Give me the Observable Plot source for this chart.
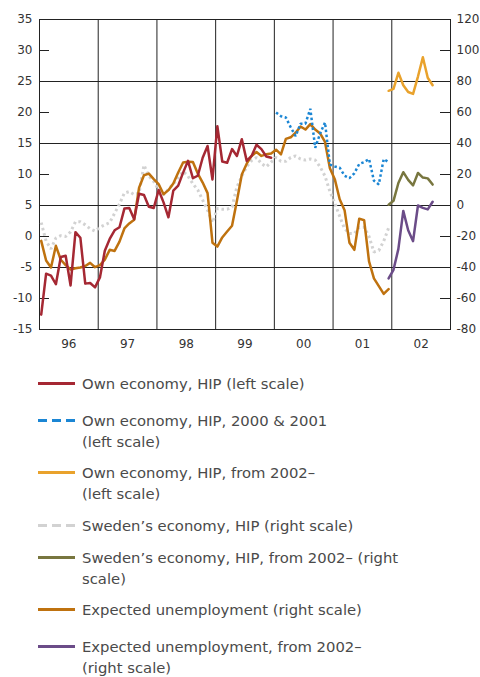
<!DOCTYPE html>
<html><head><meta charset="utf-8">
<script src="https://cdn.jsdelivr.net/npm/d3@7"></script>
<script src="https://cdn.jsdelivr.net/npm/@observablehq/plot@0.6"></script>
<style>
body{margin:0;background:#fff;font-family:"DejaVu Sans",sans-serif;}
#chart svg{display:block}
.legend{margin-top:13px;color:#4a4a4a;font-size:14.8px;line-height:21px}
.item{display:flex;align-items:flex-start;white-space:nowrap}
.item svg{margin-left:38px;margin-right:7px;margin-top:9px;flex:none}
</style></head><body>
<div id="chart"></div>
<div class="legend" id="legend"></div>
<script>
// ---- data (monthly, index 0 = Jan 1996) ----
const ownHIP = [-12.6,-6.0,-6.3,-7.7,-3.3,-3.1,-7.9,0.7,-0.2,-7.6,-7.5,-8.2,
  -6.6,-2.3,-0.4,1.0,1.5,4.5,4.6,2.8,6.9,6.7,4.8,4.6,
  7.5,5.5,3.1,7.4,8.2,10.3,12.2,9.4,9.8,12.7,14.6,9.2,
  17.8,12.1,11.9,14.1,13.0,15.7,12.2,13.0,14.8,14.1,12.9,12.7];
const ownHIPStart = 0;
const ownHIP0001 = [20.0,19.4,19.2,17.6,16.2,18.2,18.2,20.6,14.3,16.6,18.4,11.6,
  11.3,11.1,9.8,9.4,10.2,11.7,12.0,12.5,9.0,8.4,12.5,12.0];
const ownHIP0001Start = 48;
const ownHIP02 = [23.5,23.8,26.4,24.4,23.3,23.0,25.8,28.9,25.6,24.4];
const ownHIP02Start = 71;
const swedenHIP = [-11,-23,-28,-21,-19.5,-20,-17,-10.5,-10.5,-12.5,-15,-16.5,
  -14,-12.5,-11,-5,1,8,9,7,8,26,19,15.5,
  10,7,10.5,14,18,22,19,14,10,3.5,-3,-11,
  -2,-2.4,-2.4,-1,12,19,25,29,31,27,25,28,
  31,28.5,28.5,31,32,30,29.3,30,29.3,25,19,9,
  1.5,-7,-15,-18,-18,-14,-14,-20,-30,-29,-23,-14.5];
const swedenHIPStart = 0;
const swedenHIP02 = [0.5,3,14.5,21.5,16.5,13,21,18,17.5,13.5];
const swedenHIP02Start = 71;
const expUnemp = [-22.8,-35.5,-40,-26,-35,-38.5,-41.3,-40.5,-40,-39,-37,-39.8,
  -38.5,-35,-28.6,-29.3,-23.3,-14.8,-11.6,-9.2,11.5,19.5,20.6,17,
  13.8,7.3,9.9,14.2,21.3,27.7,28.2,28,20.6,14.8,8,-24,
  -26.5,-20.6,-16.8,-13.1,3,20,27,32,34.5,32,33,33.5,
  36,33,43,44,47,51,49,52.5,49,46.5,41,24,
  17,4,-3,-24,-28.6,-8.5,-9.5,-36,-47,-52,-57,-54];
const expUnempStart = 0;
const expUnemp02 = [-47,-41.5,-28,-3.5,-16,-23,0,-1.5,-2.5,2.4];
const expUnemp02Start = 71;

const leftTicks = [35,30,25,20,15,10,5,0,-5,-10,-15];
const rightTicks = [120,100,80,60,40,20,0,-20,-40,-60,-80];
const yearLabels = ["96","97","98","99","00","01","02"];
const firstYear = 1996;

// ---- helpers ----
const toLeft = r => (r + 20) / 4;             // right scale -> left scale
const rows = (vals, start, conv = v => v) =>
  vals.map((v, i) => ({x: firstYear + (start + i + 0.35) / 12, y: conv(v)}));

const gridYears = yearLabels.slice(1).map((d, i) => firstYear + i + 1);
const yearMid = yearLabels.map((d, i) => firstYear + i + 0.5);
const gridY = leftTicks.filter((d, i) => i % 2 === 0 && i > 0 && i < leftTicks.length - 1);
const shortTicks = leftTicks.filter((d, i) => i % 2 === 1);

const C = {red:"#a52833", blue:"#1b86d4", yellow:"#e9a22c", gray:"#d2d2d2",
           olive:"#78763f", brown:"#bf720f", purple:"#6b4c88", grid:"#222"};
const solid = {strokeWidth: 2.5, strokeLinejoin: "round"};
const dotted = {strokeWidth: 2.5, strokeDasharray: "2.5,2.5", strokeLinecap: "butt", strokeLinejoin: "miter"};

const chart = Plot.plot({
  width: 480, height: 360,
  marginLeft: 39, marginRight: 30, marginTop: 19, marginBottom: 31,
  x: {domain: [firstYear, firstYear + yearLabels.length], label: null},
  y: {domain: [leftTicks[leftTicks.length-1], leftTicks[0]], label: null},
  style: {fontFamily: "'DejaVu Sans', sans-serif", fontSize: "12px", color: "#333", background: "#fff"},
  marks: [
    Plot.ruleX(gridYears, {stroke: C.grid, strokeWidth: 1}),
    Plot.ruleY(gridY, {stroke: C.grid, strokeWidth: 1}),
    Plot.tickY(shortTicks, {y: d => d, insetRight: 401, stroke: C.grid}),
    Plot.tickY(shortTicks, {y: d => d, insetLeft: 401, stroke: C.grid}),
    Plot.frame({stroke: C.grid}),
    Plot.line(rows(swedenHIP, swedenHIPStart, toLeft), {x:"x", y:"y", stroke: C.gray, ...dotted, strokeWidth: 3, strokeDasharray: "2.5,3"}),
    Plot.line(rows(expUnemp, expUnempStart, toLeft), {x:"x", y:"y", stroke: C.brown, ...solid}),
    Plot.line(rows(ownHIP, ownHIPStart), {x:"x", y:"y", stroke: C.red, ...solid}),
    Plot.line(rows(ownHIP0001, ownHIP0001Start), {x:"x", y:"y", stroke: C.blue, ...dotted}),
    Plot.line(rows(ownHIP02, ownHIP02Start), {x:"x", y:"y", stroke: C.yellow, ...solid}),
    Plot.line(rows(swedenHIP02, swedenHIP02Start, toLeft), {x:"x", y:"y", stroke: C.olive, ...solid}),
    Plot.line(rows(expUnemp02, expUnemp02Start, toLeft), {x:"x", y:"y", stroke: C.purple, ...solid}),
    Plot.axisY({anchor: "left", ticks: leftTicks, tickSize: 0, tickPadding: 7, label: null,
      tickFormat: d => String(d), fill: "#333"}),
    Plot.axisY({anchor: "right", ticks: leftTicks, tickSize: 0, tickPadding: 6, label: null,
      tickFormat: d => String(rightTicks[leftTicks.indexOf(d)]), fill: "#333"}),
    Plot.axisX({ticks: yearMid, tickSize: 0, tickPadding: 10, label: null,
      tickFormat: d => yearLabels[yearMid.indexOf(d)], fill: "#333"})
  ]
});
document.getElementById("chart").append(chart);

// ---- legend ----
const legendItems = [
  {label: "Own economy, HIP (left scale)", color: C.red, dash: null, gap: 16},
  {label: "Own economy, HIP, 2000 &amp; 2001<br>(left scale)", color: C.blue, dash: "9,5", gap: 10},
  {label: "Own economy, HIP, from 2002–<br>(left scale)", color: C.yellow, dash: null, gap: 11},
  {label: "Sweden’s economy, HIP (right scale)", color: C.gray, dash: "9,5", gap: 11},
  {label: "Sweden’s economy, HIP, from 2002– (right<br>scale)", color: C.olive, dash: null, gap: 10},
  {label: "Expected unemployment (right scale)", color: C.brown, dash: null, gap: 16},
  {label: "Expected unemployment, from 2002–<br>(right scale)", color: C.purple, dash: null, gap: 0}
];
const lg = document.getElementById("legend");
for (const it of legendItems) {
  const div = document.createElement("div");
  div.className = "item";
  div.style.marginBottom = it.gap + "px";
  div.innerHTML = `<svg width="37" height="3"><line x1="0" x2="37" y1="1.5" y2="1.5" stroke="${it.color}" stroke-width="3"${it.dash ? ` stroke-dasharray="${it.dash}"` : ""}/></svg><span>${it.label}</span>`;
  lg.append(div);
}
</script>
</body></html>
